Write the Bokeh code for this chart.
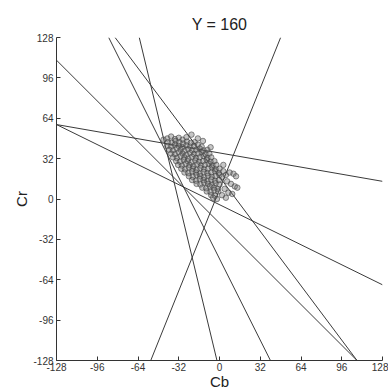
from bokeh.plotting import figure
from bokeh.models import Range1d, FixedTicker
from bokeh.embed import file_html
from bokeh.resources import INLINE

# Boundary lines: endpoints (Cb, Cr)
line_cb0 = [-54, -128, -128, -128, -63, -87, -82]
line_cr0 = [-128, 59, 59, 110, 128, 128, 128]
line_cb1 = [48, 128, 128, 108, -2, 40, 108]
line_cr1 = [128, 14, -68, -128, -128, -128, -128]

# Skin-colour cluster samples (Cb, Cr)
cluster_cb = [
    -41, -38, -35, -32, -29, -26,
    -40.5, -37.5, -34.5, -31.5, -28.5, -25.5, -22.5, -19.5,
    -41, -38, -35, -32, -29, -26, -23, -20, -17, -14,
    -39.5, -36.5, -33.5, -30.5, -27.5, -24.5, -21.5, -18.5, -15.5, -12.5, -9.5,
    -38, -35, -32, -29, -26, -23, -20, -17, -14, -11, -8,
    -36.5, -33.5, -30.5, -27.5, -24.5, -21.5, -18.5, -15.5, -12.5, -9.5, -6.5,
    -34, -31, -28, -25, -22, -19, -16, -13, -10, -7, -4,
    -32.5, -29.5, -26.5, -23.5, -20.5, -17.5, -14.5, -11.5, -8.5, -5.5, -2.5,
    -30, -27, -24, -21, -18, -15, -12, -9, -6, -3, 0,
    -27.5, -24.5, -21.5, -18.5, -15.5, -12.5, -9.5, -6.5, -3.5, -0.5,
    -24, -21, -18, -15, -12, -9, -6, -3, 0, 2,
    -21.5, -18.5, -15.5, -12.5, -9.5, -6.5, -3.5, -0.5,
    -18, -15, -12, -9, -6, -3, 0,
    -13.5, -10.5, -7.5, -4.5, -1.5,
    -10, -7, -4, -1,
    -6.5, -3.5,
    -2,
    -44, -22, -17, -13, -7, 3, 5, 8, 11, 13, 6, 9, 12, 14, 4, 7, 10, 5, 2, -5, 3,
]
cluster_cr = [
    48, 49.5, 47.5, 48.5, 47, 49,
    45, 44.5, 46, 45, 44, 45.5, 44.5, 45,
    42, 41.5, 43, 42, 41, 42.5, 41.5, 42, 43, 41.5,
    39, 38.5, 40, 39, 38, 39.5, 38.5, 39, 40, 38.5, 39,
    36, 35.5, 37, 36, 35, 36.5, 35.5, 36, 37, 35.5, 36,
    33, 32.5, 34, 33, 32, 33.5, 32.5, 33, 34, 32.5, 33,
    30, 29.5, 31, 30, 29, 30.5, 29.5, 30, 31, 29.5, 30,
    27, 26.5, 28, 27, 26, 27.5, 26.5, 27, 28, 26.5, 27,
    24, 23.5, 25, 24, 23, 24.5, 23.5, 24, 25, 23.5, 24,
    21, 20.5, 22, 21, 20, 21.5, 20.5, 21, 22, 20.5,
    18, 17.5, 19, 18, 17, 18.5, 17.5, 18, 19, 17.5,
    15, 14.5, 16, 15, 14, 15.5, 14.5, 15,
    12, 11.5, 13, 12, 11, 12.5, 11.5,
    9, 8.5, 10, 9, 8,
    6, 5.5, 7, 6,
    3, 2.5,
    0,
    47, 51, 48, 46, 41, 22, 19, 21, 20, 18, 14, 12, 10, 9, 8, 5, 4, 1, 3, 1, 27,
]

tick_values = [-128, -96, -64, -32, 0, 32, 64, 96, 128]
tick_labels = ["-128", "-96", "-64", "-32", "0", "32", "64", "96", "128"]

title_text = "Y = 160"
x_label = "Cb"
y_label = "Cr"

FONT = "Liberation Sans"
INK = "#333333"

p = figure(width=388, height=392, output_backend="svg", toolbar_location=None,
           x_range=Range1d(-128, 128), y_range=Range1d(-128, 128),
           min_border_left=56, min_border_right=6, min_border_top=37,
           min_border_bottom=29, background_fill_color="white",
           border_fill_color="white")
p.outline_line_color = None
p.grid.visible = False

p.title.text = title_text
p.title.align = "center"
p.title.text_font = FONT
p.title.text_font_size = "16px"
p.title.text_font_style = "normal"
p.title.text_color = "#222222"

for ax in (p.xaxis[0], p.yaxis[0]):
    ax.ticker = FixedTicker(ticks=tick_values)
    ax.major_label_overrides = {v: s for v, s in zip(tick_values, tick_labels)}
    ax.major_tick_in = 4
    ax.major_tick_out = 0
    ax.minor_tick_line_color = None
    ax.axis_line_color = INK
    ax.major_tick_line_color = INK
    ax.major_label_text_font = FONT
    ax.major_label_text_font_size = "10px"
    ax.major_label_text_color = INK
    ax.axis_label_text_font = FONT
    ax.axis_label_text_font_size = "15px"
    ax.axis_label_text_font_style = "normal"
    ax.axis_label_text_color = "#222222"

p.xaxis.axis_label = x_label
p.yaxis.axis_label = y_label
p.xaxis.major_label_standoff = 2
p.xaxis.axis_label_standoff = -1
p.yaxis.major_label_standoff = 3
p.yaxis.axis_label_standoff = 0

p.segment(x0=line_cb0, y0=line_cr0, x1=line_cb1, y1=line_cr1,
          line_color="#3a3a3a", line_width=1)

p.scatter(cluster_cb, cluster_cr, marker="circle", size=5.5,
          fill_color="#707070", fill_alpha=0.4,
          line_color="#404040", line_width=0.7, line_alpha=0.85)

open("out.html", "w").write(file_html(p, INLINE))
